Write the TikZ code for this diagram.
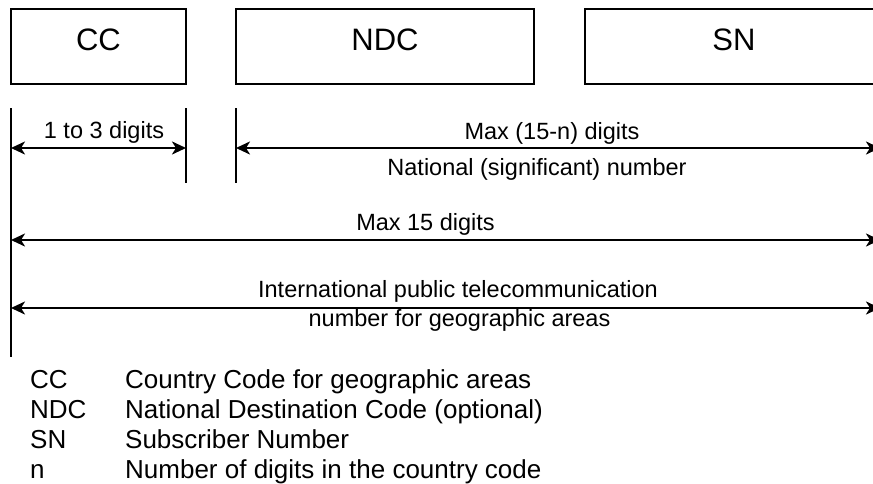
\documentclass[tikz,border=0pt]{standalone}
\usepackage{fontspec}
\setmainfont{Liberation Sans}
\usetikzlibrary{arrows.meta}
\begin{document}
\begin{tikzpicture}[x=1pt,y=-1pt,
  box/.style={draw,line width=1.8pt},
  tick/.style={line width=1.8pt},
  dim/.style={line width=2.4pt,{Stealth[length=14pt,width=13pt,inset=4pt]}-{Stealth[length=14pt,width=13pt,inset=4pt]}},
  boxtxt/.style={anchor=base,inner sep=0pt,font=\fontsize{31}{36}\selectfont},
  lbl/.style={anchor=base,inner sep=0pt,font=\fontsize{23.5}{27}\selectfont},
  leg/.style={anchor=base west,inner sep=0pt,font=\fontsize{26}{30}\selectfont}]
\useasboundingbox (0,0) rectangle (873,483);
\clip (0,0) rectangle (873,483);
% boxes
\draw[box] (11,9) rectangle (186,84);
\draw[box] (236,9) rectangle (534,84);
\draw[box] (585,9) rectangle (884,84);
\node[boxtxt] (cc) at (98.5,50) {CC};
\node[boxtxt] (ndc) at (385,50) {NDC};
\node[boxtxt] (sn) at (734,50) {SN};
% vertical ticks
\coordinate (l0) at (11,108); \coordinate (l1) at (11,357);
\coordinate (m0) at (186,108); \coordinate (m1) at (186,183);
\coordinate (r0) at (236,108); \coordinate (r1) at (236,183);
\draw[tick] (l0) -- (l1);
\draw[tick] (m0) -- (m1);
\draw[tick] (r0) -- (r1);
% dimension arrows
\coordinate (a1l) at (11,148); \coordinate (a1r) at (186,148);
\coordinate (a2l) at (236,148); \coordinate (a2r) at (880,148);
\coordinate (a3l) at (11,240); \coordinate (a3r) at (880,240);
\coordinate (a4l) at (11,308); \coordinate (a4r) at (880,308);
\draw[dim] (a1l) -- (a1r);
\draw[dim] (a2l) -- (a2r);
\draw[dim] (a3l) -- (a3r);
\draw[dim] (a4l) -- (a4r);
% labels
\node[lbl] (t1) at (104,138) {1 to 3 digits};
\node[lbl] (t2) at (552,139) {Max (15-n) digits};
\node[lbl] (t3) at (537,175) {National (significant) number};
\node[lbl] (t4) at (425.5,230) {Max 15 digits};
\node[lbl] (t5) at (458,297) {International public telecommunication};
\node[lbl] (t6) at (459.5,326) {number for geographic areas};
% legend
\node[leg] (k1) at (30,388) {CC};
\node[leg] (k2) at (30,418) {NDC};
\node[leg] (k3) at (30,448) {SN};
\node[leg] (k4) at (30,478) {n};
\node[leg] (d1) at (125,388) {Country Code for geographic areas};
\node[leg] (d2) at (125,418) {National Destination Code (optional)};
\node[leg] (d3) at (125,448) {Subscriber Number};
\node[leg] (d4) at (125,478) {Number of digits in the country code};
\end{tikzpicture}
\end{document}
